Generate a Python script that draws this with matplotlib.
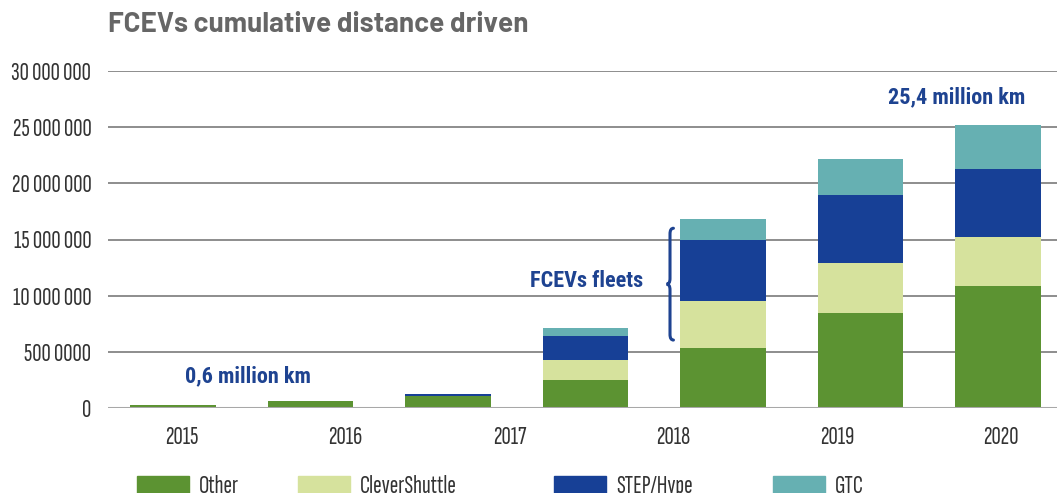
import matplotlib
matplotlib.use("Agg")
import matplotlib.pyplot as plt
from matplotlib.patches import Rectangle
from matplotlib.path import Path
from matplotlib.patches import PathPatch
import numpy as np
import logging
logging.getLogger("matplotlib.font_manager").setLevel(logging.ERROR)

# ---- data (millions of km) ----
bar_ids = ["b1", "b2", "b3", "b4", "b5", "b6", "b7"]
other = [0.24, 0.60, 1.04, 2.52, 5.37, 8.49, 10.89]
clever = [0.0, 0.0, 0.0, 1.78, 4.18, 4.44, 4.35]
step_hype = [0.0, 0.0, 0.18, 2.14, 5.43, 6.03, 6.03]
gtc = [0.0, 0.0, 0.0, 0.71, 1.87, 3.20, 3.91]
series_names = ["Other", "CleverShuttle", "STEP/Hype", "GTC"]
year_labels = ["2015", "2016", "2017", "2018", "2019", "2020"]
ytick_values = [0, 5, 10, 15, 20, 25, 30]
ytick_labels = ["0", "500 0000", "10 000 000", "15 000 000", "20 000 000",
                "25 000 000", "30 000 000"]

colors = ["#5c9332", "#d6e29d", "#174096", "#66b0b2"]
blue_txt = "#1e4391"
narrow = ["Sofia Sans Extra Condensed", "DejaVu Sans"]
narrow_bold = ["Roboto Condensed", "Barlow Condensed", "Saira ExtraCondensed",
               "Saira Condensed", "Sofia Sans Condensed", "DejaVu Sans"]
title_font = ["Barlow", "Roboto", "DejaVu Sans"]

W, H = 1057, 493
fig = plt.figure(figsize=(W / 100, H / 100), dpi=100)
ax = fig.add_axes([108 / W, (H - 408) / H, (W - 108) / W, (408 - 71) / H])

x = np.arange(len(bar_ids))
bottom = np.zeros(len(bar_ids))
for vals, c in zip([other, clever, step_hype, gtc], colors):
    v = np.array(vals)
    ax.bar(x, v, bottom=bottom, width=0.62, color=c, zorder=3, linewidth=0)
    bottom = bottom + v

ax.set_xlim(-0.473, 6.43)
ax.set_ylim(0, 30)
for s in ax.spines.values():
    s.set_visible(False)

ax.set_yticks(ytick_values)
ax.set_yticklabels(ytick_labels, fontfamily=narrow, fontsize=18.5, color="#333333")
ax.tick_params(axis="y", length=0, pad=12)
ax.yaxis.grid(True, color="#858585", linewidth=1.3, zorder=0)
ax.axhline(0, color="#a8a8a8", linewidth=2.2, zorder=4)

ax.set_xticks(np.linspace(0.065, 6.02, len(year_labels)))
ax.set_xticklabels(year_labels, fontfamily=narrow, fontsize=18.5, color="#333333")
ax.tick_params(axis="x", length=0, pad=13)

# title
fig.text(108 / W, 1 - 25 / H, "FCEVs cumulative distance driven", fontsize=20,
         fontweight="bold", color="#666666", va="center", ha="left",
         family=title_font)

# annotations
ax.text(0.545, 2.85, "0,6 million km", fontfamily=narrow_bold, fontweight="bold",
        fontsize=16, color=blue_txt, ha="center", va="center")
ax.text(3.01, 11.3, "FCEVs fleets", fontfamily=narrow_bold, fontweight="bold",
        fontsize=16, color=blue_txt, ha="center", va="center")
ax.text(5.70, 27.65, "25,4 million km", fontfamily=narrow_bold, fontweight="bold",
        fontsize=16, color=blue_txt, ha="center", va="center")

# brace
bx, top, bot = 3.615, 16.0, 6.05
mid = (top + bot) / 2
dx, dy = 0.025, 0.5
verts = [(bx + dx, top), (bx, top), (bx, top - dy),
         (bx, mid + dy),
         (bx, mid), (bx - dx, mid),
         (bx, mid), (bx, mid - dy),
         (bx, bot + dy),
         (bx, bot), (bx + dx, bot)]
codes = [Path.MOVETO, Path.CURVE3, Path.CURVE3,
         Path.LINETO,
         Path.CURVE3, Path.CURVE3,
         Path.CURVE3, Path.CURVE3,
         Path.LINETO,
         Path.CURVE3, Path.CURVE3]
ax.add_patch(PathPatch(Path(verts, codes), fill=False, edgecolor=blue_txt,
                       linewidth=2.2, capstyle="round", zorder=5, clip_on=False))

# legend (manual, bottom, partly cropped)
leg_x = [137, 298, 554, 773]
for lx, name, c in zip(leg_x, series_names, colors):
    fig.patches.append(Rectangle((lx / W, 0), 52 / W, (H - 476) / H,
                                 transform=fig.transFigure, color=c))
    fig.text((lx + 62) / W, (H - 475) / H, name, fontfamily=narrow, fontsize=18.5,
             color="#333333", ha="left", va="top")

fig.savefig("out.png", dpi=100)
